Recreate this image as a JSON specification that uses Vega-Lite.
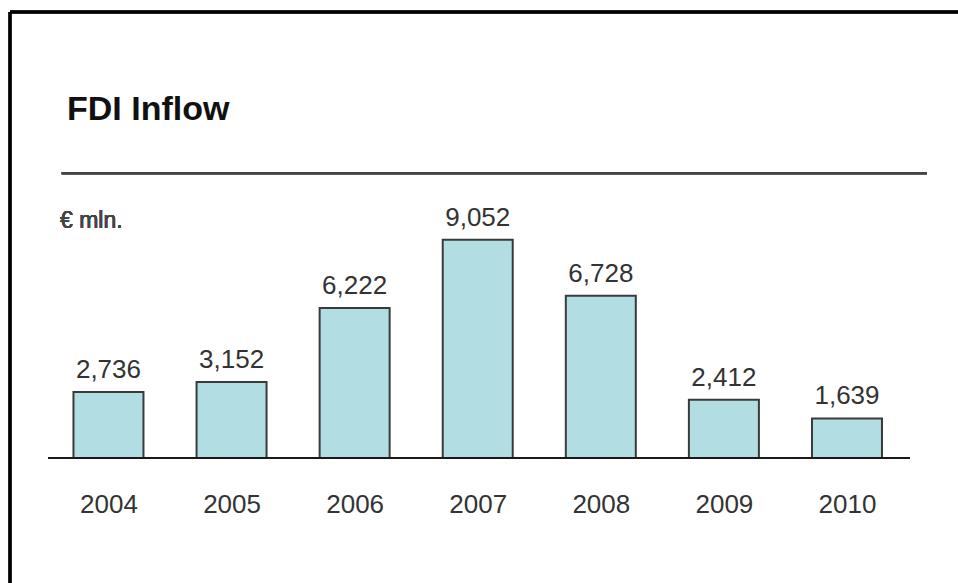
{
  "$schema": "https://vega.github.io/schema/vega-lite/v6.json",
  "width": 948,
  "height": 571,
  "autosize": {"type": "none"},
  "padding": {"left": 10, "top": 12, "right": 0, "bottom": 0},
  "background": "#ffffff",
  "title": {
    "text": "FDI Inflow",
    "anchor": "start",
    "frame": "group",
    "font": "Liberation Sans",
    "fontSize": 34,
    "fontWeight": "bold",
    "color": "#111111",
    "baseline": "alphabetic",
    "offset": -143,
    "dx": 57
  },
  "config": {
    "view": {"stroke": null},
    "font": "Liberation Sans"
  },
  "data": {
    "values": [
      {"year": 2004, "value": 2736},
      {"year": 2005, "value": 3152},
      {"year": 2006, "value": 6222},
      {"year": 2007, "value": 9052},
      {"year": 2008, "value": 6728},
      {"year": 2009, "value": 2412},
      {"year": 2010, "value": 1639}
    ]
  },
  "layer": [
    {
      "mark": {"type": "bar", "orient": "vertical", "width": 70, "fill": "#b2dde3", "stroke": "#3a3a3a", "strokeWidth": 2},
      "encoding": {
        "x": {
          "field": "year", "type": "quantitative",
          "scale": {"domain": [2003.2, 2010.902], "nice": false, "zero": false, "padding": 0},
          "axis": {
            "orient": "bottom", "offset": -125, "domain": false, "ticks": false, "tickSize": 0, "grid": false,
            "labelPadding": 54, "labelBaseline": "alphabetic", "labelFontSize": 26, "labelColor": "#333333",
            "labelFont": "Liberation Sans", "labelFlush": false, "labelOverlap": false,
            "values": [2004, 2005, 2006, 2007, 2008, 2009, 2010], "format": "d", "title": null
          }
        },
        "y": {
          "field": "value", "type": "quantitative",
          "scale": {"domain": [-5187, 18506], "nice": false, "zero": false, "padding": 0},
          "axis": null
        }
      }
    },
    {
      "mark": {"type": "text", "baseline": "alphabetic", "dy": -14, "fontSize": 26, "color": "#333333", "font": "Liberation Sans"},
      "encoding": {
        "x": {"field": "year", "type": "quantitative"},
        "y": {"field": "value", "type": "quantitative"},
        "text": {"field": "value", "type": "quantitative", "format": ","}
      }
    },
    {
      "mark": {"type": "rule", "color": "#444444", "strokeWidth": 2},
      "encoding": {
        "x": {"datum": 2003.62},
        "x2": {"datum": 2010.65},
        "y": {"datum": 11813}
      }
    },
    {
      "mark": {"type": "rule", "color": "#1a1a1a", "strokeWidth": 2},
      "encoding": {
        "x": {"datum": 2003.51},
        "x2": {"datum": 2010.51},
        "y": {"datum": 0}
      }
    },
    {
      "mark": {"type": "rule", "color": "#000000", "strokeWidth": 2.5},
      "encoding": {
        "x": {"datum": 2003.2},
        "x2": {"datum": 2010.902},
        "y": {"datum": 18506}
      }
    },
    {
      "mark": {"type": "rule", "color": "#000000", "strokeWidth": 2.5},
      "encoding": {
        "x": {"datum": 2003.2},
        "y": {"datum": -5187},
        "y2": {"datum": 18506}
      }
    },
    {
      "mark": {"type": "text", "align": "left", "baseline": "alphabetic", "fontSize": 23, "fontWeight": "normal", "color": "#444444", "font": "Liberation Sans", "text": "€ mln."},
      "encoding": {
        "x": {"datum": 2003.606},
        "y": {"datum": 9544}
      }
    }
  ]
}
